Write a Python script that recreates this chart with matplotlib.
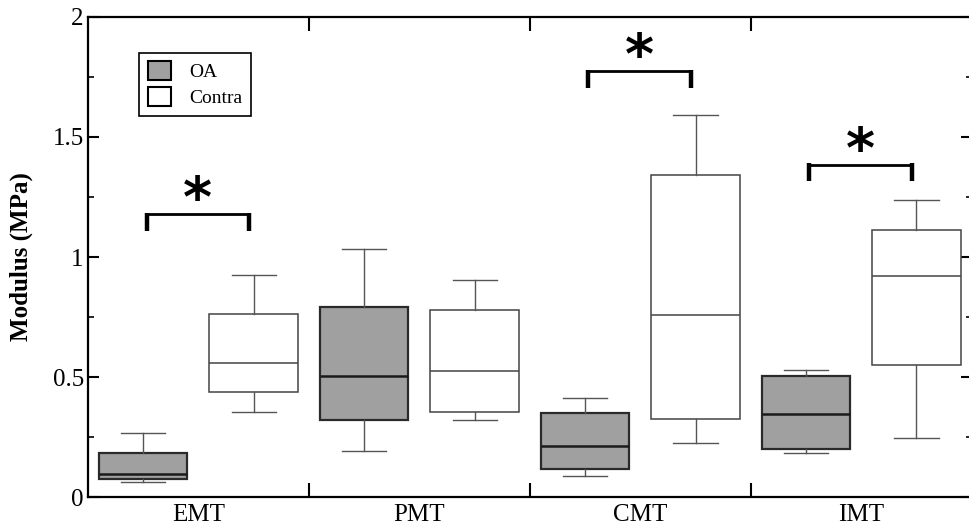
import numpy as np
import matplotlib.pyplot as plt
from matplotlib.patches import Patch

plt.rcParams['font.family'] = ['Liberation Serif', 'DejaVu Serif']

# Donnees (MPa)
categories = ['EMT', 'PMT', 'CMT', 'IMT']
# [whisker bas, Q1, mediane, Q3, whisker haut]
oa_stats = [
    [0.061, 0.075, 0.095, 0.182, 0.265],
    [0.193, 0.320, 0.504, 0.792, 1.032],
    [0.089, 0.117, 0.214, 0.349, 0.411],
    [0.183, 0.200, 0.345, 0.506, 0.531],
]
contra_stats = [
    [0.353, 0.439, 0.560, 0.761, 0.925],
    [0.320, 0.356, 0.524, 0.780, 0.906],
    [0.224, 0.327, 0.758, 1.342, 1.592],
    [0.245, 0.548, 0.921, 1.113, 1.237],
]
# crochets de significativite : (categorie, hauteur)
sig_cat = [0, 2, 3]
sig_height = [1.179, 1.775, 1.385]


def to_bxp(stats):
    out = []
    for lo, q1, med, q3, hi in stats:
        out.append(dict(whislo=lo, q1=q1, med=med, q3=q3, whishi=hi, fliers=[]))
    return out


fig = plt.figure(figsize=(9.69, 5.31), dpi=100)
ax = fig.add_axes([0.0908, 0.064, 0.912, 0.904])

pos = np.arange(len(categories))
ax.bxp(to_bxp(oa_stats), positions=pos + 0.25, widths=0.4, patch_artist=True,
       showfliers=False,
       boxprops=dict(facecolor='#a0a0a0', edgecolor='#2a2a2a', linewidth=1.6),
       medianprops=dict(color='#1a1a1a', linewidth=1.8),
       whiskerprops=dict(color='#555555', linewidth=1.0),
       capprops=dict(color='#555555', linewidth=1.0))
ax.bxp(to_bxp(contra_stats), positions=pos + 0.75, widths=0.4, patch_artist=True,
       showfliers=False,
       boxprops=dict(facecolor='white', edgecolor='#444444', linewidth=1.1),
       medianprops=dict(color='#444444', linewidth=1.1),
       whiskerprops=dict(color='#555555', linewidth=1.0),
       capprops=dict(color='#555555', linewidth=1.0))

for c, h in zip(sig_cat, sig_height):
    x0, x1 = c + 0.265, c + 0.73
    ax.plot([x0, x1], [h, h], color='black', linewidth=2.0, solid_capstyle='butt')
    ax.plot([x0, x0], [h + 0.005, h - 0.07], color='black', linewidth=3.2, solid_capstyle='butt')
    ax.plot([x1, x1], [h + 0.005, h - 0.07], color='black', linewidth=3.2, solid_capstyle='butt')
    ax.text((x0 + x1) / 2, h - 0.06, '*', ha='center', va='bottom',
            fontsize=40, fontweight='bold', family='DejaVu Sans')

ax.set_xlim(0, 4)
ax.set_ylim(0, 2)
ax.set_yticks([0, 0.5, 1, 1.5, 2])
ax.set_yticklabels(['0', '0.5', '1', '1.5', '2'])
ax.set_yticks(np.arange(0.25, 2, 0.5), minor=True)
ax.set_xticks([1, 2, 3])
ax.set_xticklabels([])
ax.set_xticks(pos + 0.5, minor=True)
ax.set_xticklabels(categories, minor=True)

ax.tick_params(axis='y', which='major', direction='in', length=8, width=1.5,
               right=True, labelsize=18, pad=3)
ax.tick_params(axis='y', which='minor', direction='in', length=4, width=1.2, right=True)
ax.tick_params(axis='x', which='major', direction='in', length=10, width=1.5, top=True)
ax.tick_params(axis='x', which='minor', length=0, labelsize=18, pad=5)

for s in ax.spines.values():
    s.set_linewidth(1.6)

ax.set_ylabel('Modulus (MPa)', fontsize=18, fontweight='bold', labelpad=14)

handles = [Patch(facecolor='#a0a0a0', edgecolor='black', linewidth=1.5, label='OA'),
           Patch(facecolor='white', edgecolor='black', linewidth=1.5, label='Contra')]
leg = ax.legend(handles=handles, loc='upper left', bbox_to_anchor=(0.058, 0.926),
                fontsize=14, fancybox=False, framealpha=1, edgecolor='black',
                handlelength=1.2, handleheight=1.1, borderpad=0.45, labelspacing=0.3,
                handletextpad=0.9, borderaxespad=0)
leg.get_frame().set_linewidth(1.2)

fig.savefig('out.png', dpi=100)
